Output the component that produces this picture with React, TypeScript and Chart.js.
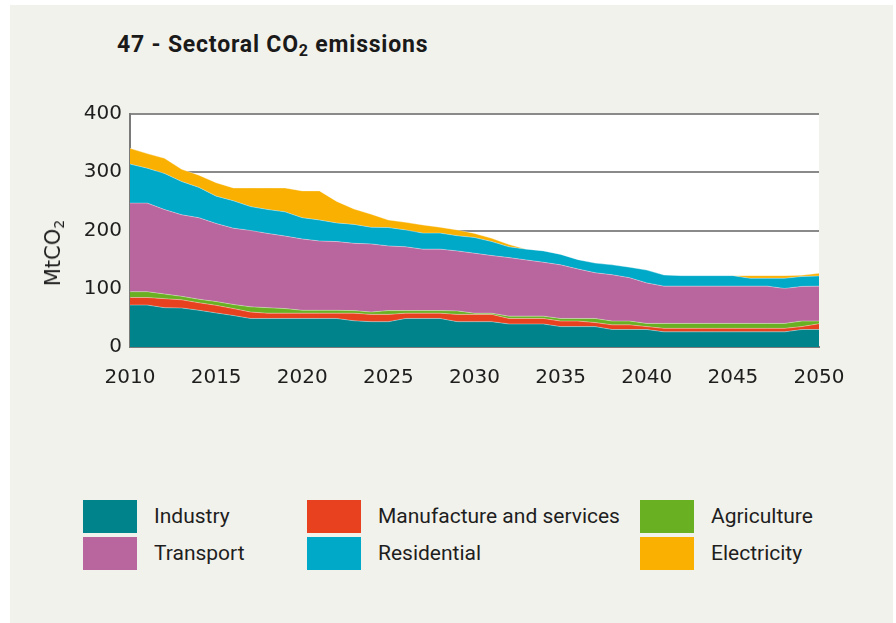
import React, { useEffect, useRef } from "react";
import { Chart, registerables } from "chart.js";

Chart.register(...registerables);

const years = [
  "2010", "2011", "2012", "2013", "2014", "2015", "2016", "2017", "2018", "2019",
  "2020", "2021", "2022", "2023", "2024", "2025", "2026", "2027", "2028", "2029",
  "2030", "2031", "2032", "2033", "2034", "2035", "2036", "2037", "2038", "2039",
  "2040", "2041", "2042", "2043", "2044", "2045", "2046", "2047", "2048", "2049", "2050",
];
const xTickLabels = ["2010", "2015", "2020", "2025", "2030", "2035", "2040", "2045", "2050"];
const yTicks = [0, 100, 200, 300, 400];

const industry = [
  72, 72, 67.5, 67, 63, 58.5, 54, 49, 49, 49,
  49, 49, 49, 45, 43.5, 43.5, 49, 49, 49, 43.5,
  43.5, 43.5, 39.5, 39.5, 39.5, 35, 35, 35, 30, 30,
  30, 26, 26, 26, 26, 26, 26, 26, 26, 30, 30,
];
const manufacture = [
  13, 13, 15.5, 14, 13, 13, 12, 11, 9, 9,
  9, 9, 9, 13, 12.5, 12.5, 9, 9, 9, 12.5,
  12.5, 12.5, 9.5, 9.5, 9.5, 9.5, 9.5, 7, 8, 8,
  5, 6, 6, 6, 6, 6, 6, 6, 6, 5, 10,
];
const agriculture = [
  10, 10, 8, 6, 6, 6.5, 7, 9, 9.5, 8,
  5, 5, 5, 4.5, 4, 6.5, 4.5, 4.5, 4.5, 6,
  2, 2, 4, 4, 4, 4.5, 4.5, 7, 6.5, 6.5,
  5.5, 8.5, 8.5, 8.5, 8.5, 8.5, 8.5, 8.5, 8.5, 9.5, 4.5,
];
const transport = [
  152, 152, 145, 140, 140, 134, 131, 131, 127.5, 124.5,
  122.5, 119, 118, 115.5, 117, 111, 109.5, 105.5, 105.5, 103,
  103, 99, 100.5, 96.5, 92.5, 92, 85, 78.5, 79.5, 74.5,
  69.5, 64, 64, 64, 64, 64, 64, 64, 60, 59.5, 60,
];
const residential = [
  67, 60, 62, 57, 52, 47, 47, 41, 41, 41.5,
  36.5, 36, 32, 32.5, 28.5, 31.5, 29, 27.5, 27.5, 26,
  27, 24, 18.5, 18.5, 19.5, 18, 16, 16.5, 17, 18,
  22, 19, 18, 18, 18, 18, 13.5, 13.5, 17.5, 17, 17.5,
];
const electricity = [
  27, 25, 26, 21, 21, 23, 22, 32, 37, 41,
  46, 50, 37, 26.5, 22.5, 13, 13, 14, 10, 10,
  7, 5.5, 4, 0, 0, 0, 0, 0, 0, 0,
  0, 0, 0, 0, 0, 0, 4.5, 4.5, 4.5, 2, 4.5,
];

const seriesNames = ["Industry", "Manufacture and services", "Agriculture", "Transport", "Residential", "Electricity"];
const seriesColors = ["#00838a", "#e8411f", "#6ab023", "#b9659e", "#00a9c8", "#f9b000"];
const seriesData = [industry, manufacture, agriculture, transport, residential, electricity];

const legendOrder = [
  [0, 1, 2],
  [3, 4, 5],
];

const whiteArea = {
  id: "whiteArea",
  beforeDraw(chart: any) {
    const { ctx, chartArea } = chart;
    if (!chartArea) return;
    ctx.save();
    ctx.fillStyle = "#ffffff";
    ctx.fillRect(chartArea.left, chartArea.top, chartArea.right - chartArea.left, chartArea.bottom - chartArea.top);
    ctx.restore();
  },
};

const tickFont = { family: "'DejaVu Sans', sans-serif", size: 20 };

export default function App() {
  const canvasRef = useRef<HTMLCanvasElement | null>(null);

  useEffect(() => {
    if (!canvasRef.current) return;
    const chart = new Chart(canvasRef.current, {
      type: "line",
      data: {
        labels: years,
        datasets: seriesData.map((d, i) => ({
          label: seriesNames[i],
          data: d,
          backgroundColor: seriesColors[i],
          borderColor: "rgba(255,255,255,0.35)",
          borderWidth: 1,
          pointRadius: 0,
          tension: 0,
          fill: i === 0 ? "origin" : "-1",
        })),
      },
      options: {
        animation: false,
        responsive: false,
        events: [],
        layout: { padding: { left: 30, right: 77, top: 114, bottom: 13 } },
        plugins: {
          legend: { display: false },
          tooltip: { enabled: false },
          title: { display: false },
        },
        scales: {
          x: {
            type: "category",
            offset: false,
            grid: { display: false, drawTicks: false },
            border: { display: true, color: "#7a7a7a", width: 2 },
            ticks: {
              autoSkip: false,
              maxRotation: 0,
              padding: 19,
              color: "#1e1e1e",
              font: tickFont,
              callback: (_v: any, i: number) => (xTickLabels.includes(years[i]) ? years[i] : null),
            },
            afterFit: (s: any) => {
              s.height = 40;
            },
          },
          y: {
            stacked: true,
            min: 0,
            max: 400,
            afterBuildTicks: (s: any) => {
              s.ticks = yTicks.map((v) => ({ value: v }));
            },
            ticks: { padding: 8, color: "#1e1e1e", font: tickFont },
            grid: { color: "#8a8a8a", lineWidth: 2, drawTicks: false },
            border: { display: true, color: "#7a7a7a", width: 2 },
            afterFit: (s: any) => {
              s.width = 100;
            },
          },
        },
      },
      plugins: [whiteArea],
    });
    return () => chart.destroy();
  }, []);

  const legendCols = [83, 307, 640];
  const legendRows = [500, 537];

  return (
    <div style={{ position: "absolute", left: 0, top: 0, width: 896, height: 623, overflow: "hidden" }}>
      <div style={{ position: "absolute", left: 10, top: 5, width: 883, height: 618, background: "#f2f2ec" }} />
      <div
        style={{
          position: "absolute",
          left: 117,
          top: 31,
          fontFamily: "Roboto, sans-serif",
          fontWeight: 700,
          fontSize: 23,
          letterSpacing: 0.8,
          color: "#1a1a1a",
          whiteSpace: "nowrap",
        }}
      >
        47 - Sectoral CO<span style={{ fontSize: 16, position: "relative", top: 4 }}>2</span> emissions
      </div>
      <canvas ref={canvasRef} width={896} height={400} style={{ position: "absolute", left: 0, top: 0 }} />
      <div
        style={{
          position: "absolute",
          left: 54,
          top: 253,
          transform: "translate(-50%, -50%) rotate(-90deg)",
          fontFamily: "'DejaVu Sans', sans-serif",
          fontSize: 21,
          color: "#1e1e1e",
          whiteSpace: "nowrap",
          lineHeight: "24px",
        }}
      >
        MtCO<span style={{ fontSize: 14, position: "relative", top: 4 }}>2</span>
      </div>
      {legendOrder.map((row, r) =>
        row.map((si, c) => (
          <div key={si}>
            <div
              style={{
                position: "absolute",
                left: legendCols[c],
                top: legendRows[r],
                width: 54,
                height: 33,
                background: seriesColors[si],
              }}
            />
            <div
              style={{
                position: "absolute",
                left: legendCols[c] + 71,
                top: legendRows[r],
                height: 33,
                lineHeight: "33px",
                fontFamily: "Roboto, sans-serif",
                fontSize: 21,
                color: "#1e1e1e",
                whiteSpace: "nowrap",
              }}
            >
              {seriesNames[si]}
            </div>
          </div>
        ))
      )}
    </div>
  );
}
